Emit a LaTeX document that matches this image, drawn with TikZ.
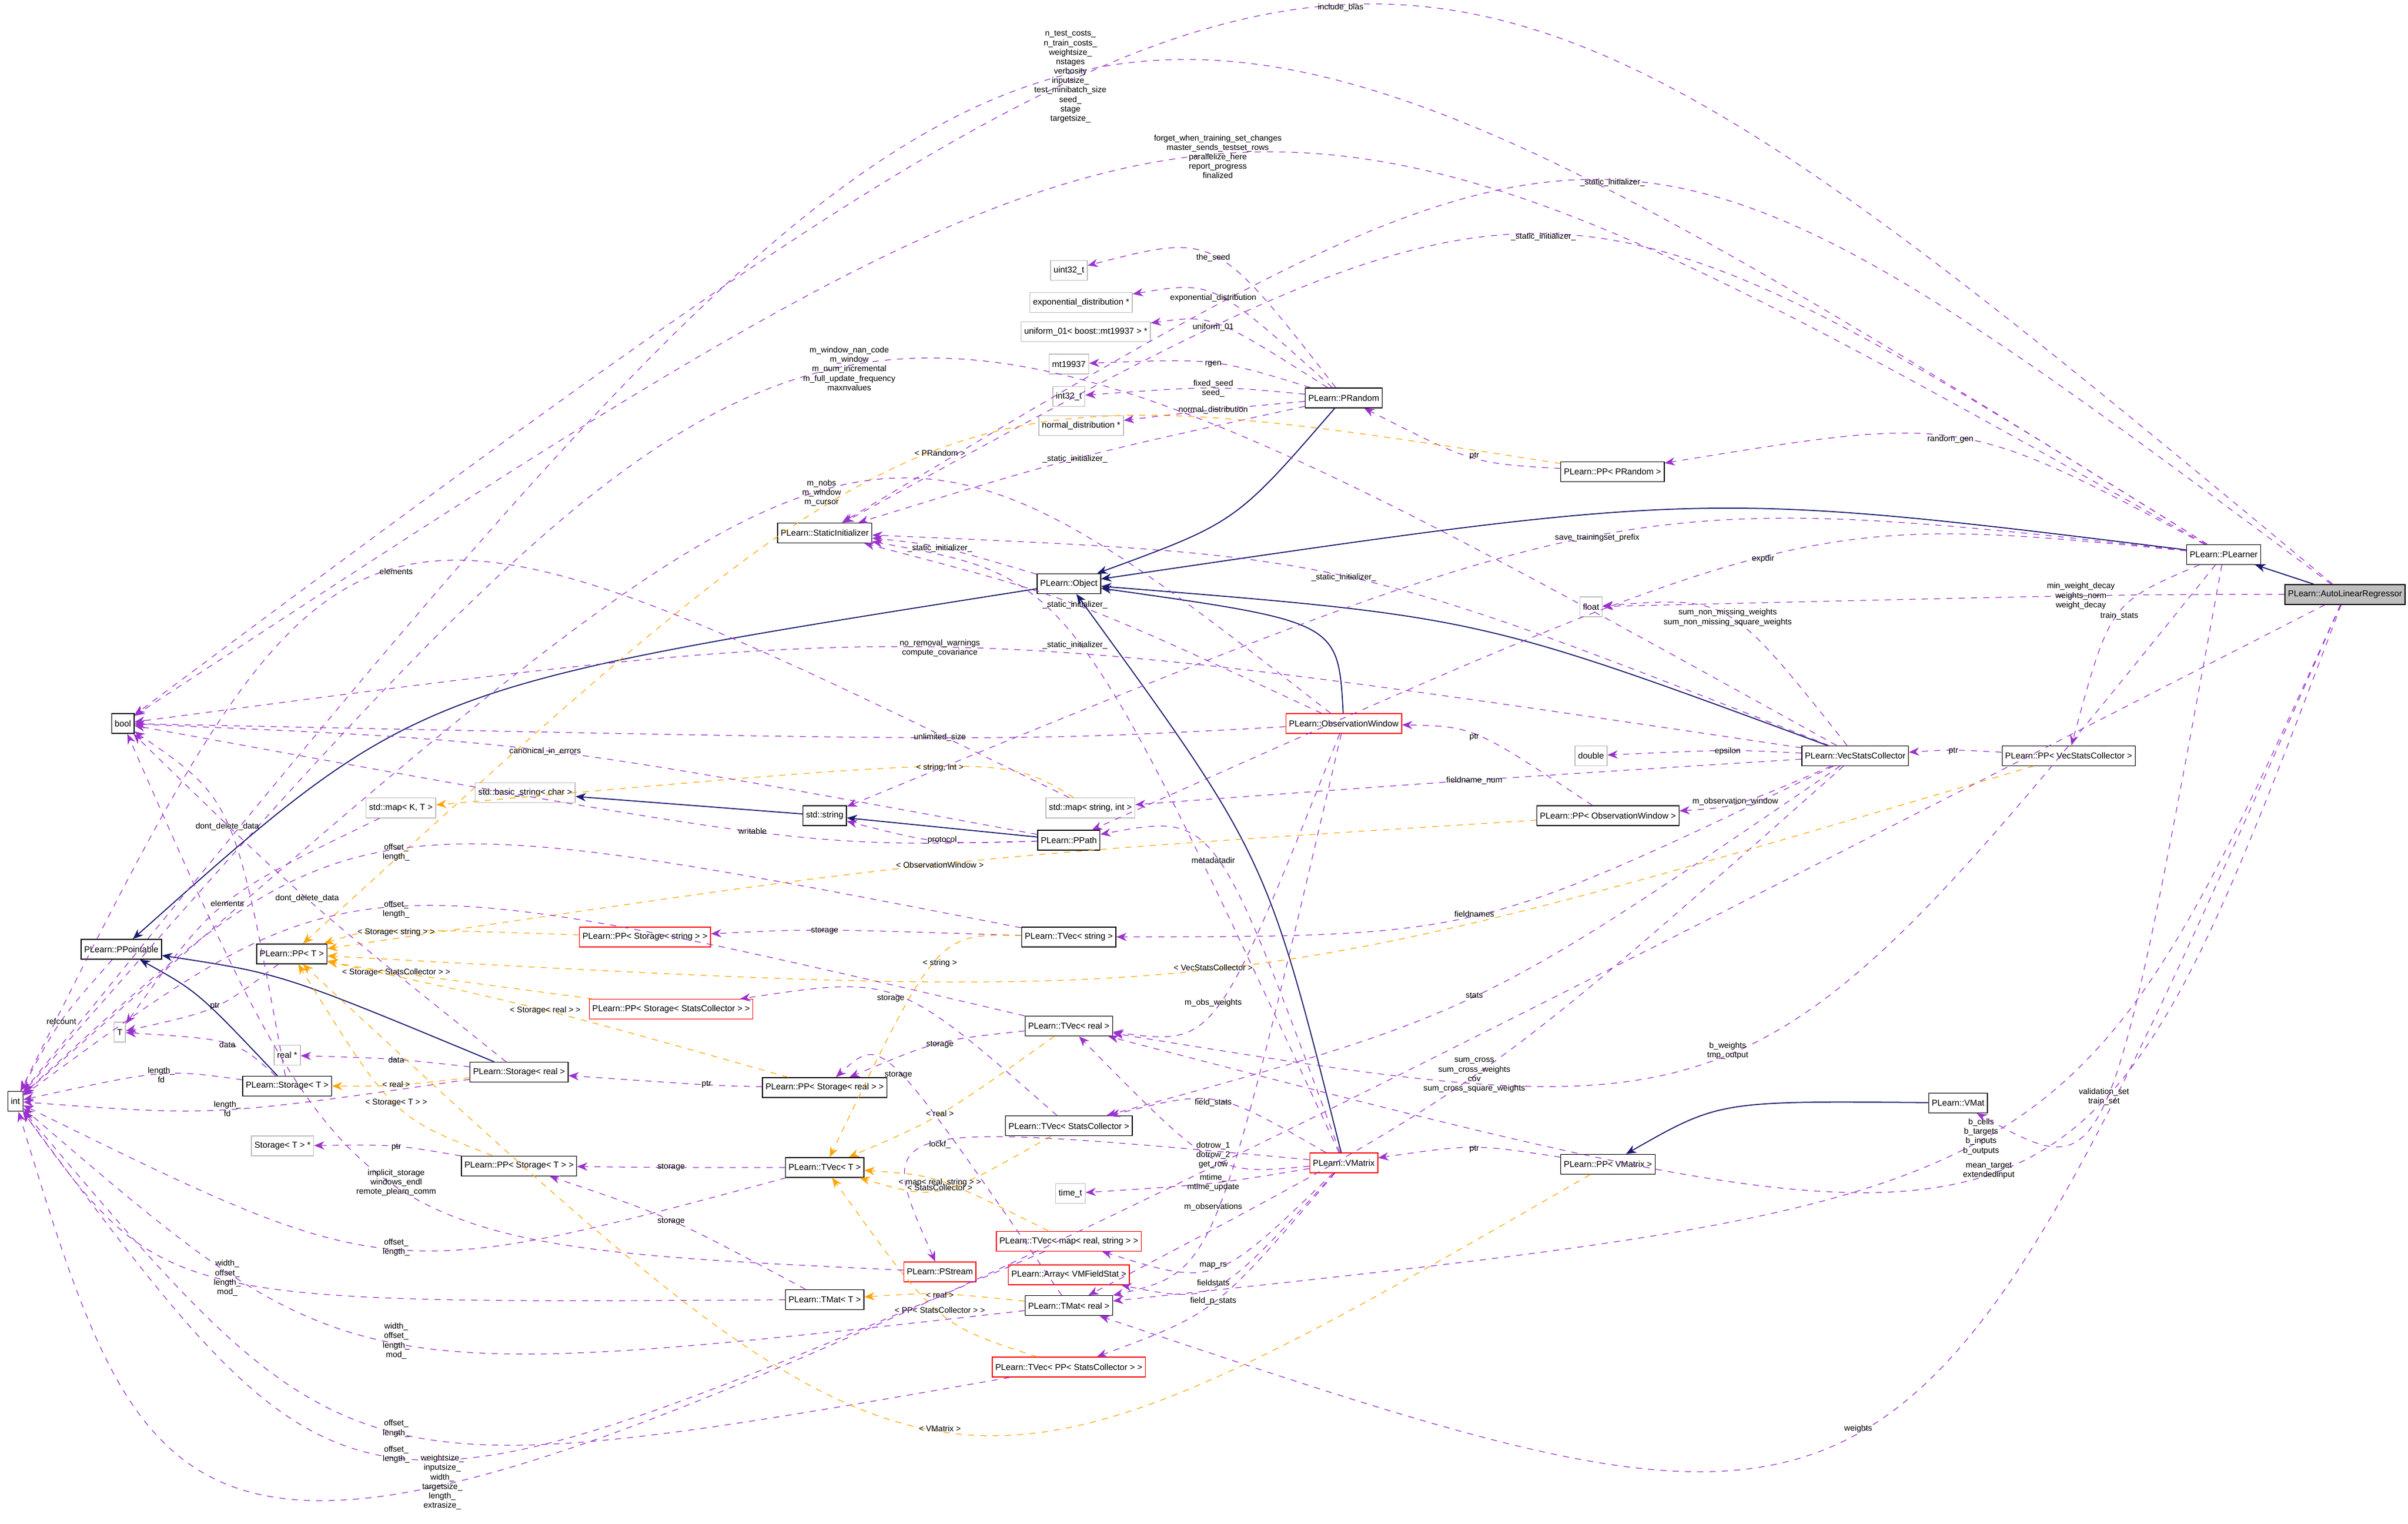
\documentclass[tikz,border=0pt]{standalone}
\usepackage{fontspec}
\setmainfont{Liberation Sans}
\usetikzlibrary{arrows.meta, calc}

\definecolor{depcol}{RGB}{154,50,205}
\definecolor{tplcol}{RGB}{255,165,0}
\definecolor{inhcol}{RGB}{25,25,112}
\definecolor{grayedge}{RGB}{191,191,191}

\tikzset{
    cls/.style={rectangle, draw=black, line width=0.4pt, inner sep=1.5pt, minimum height=0.34cm, font=\fontsize{4.2}{5}\selectfont},
    redcls/.style={cls, draw=red},
    extcls/.style={cls, draw=grayedge},
    lbl/.style={font=\fontsize{4}{4.6}\selectfont, align=center, inner sep=0.5pt},
    dep/.style={draw=depcol, dashed, line width=0.35pt, -{Stealth[length=5pt, width=4pt]}},
    tpl/.style={draw=tplcol, dashed, line width=0.35pt, -{Stealth[length=5pt, width=4pt]}},
    inh/.style={draw=inhcol, line width=0.5pt, -{Stealth[length=5pt, width=4pt]}}
}

% curve from #2 to #3 passing through the label point #4
\newcommand\dlink[5][dep]{%
    \draw[#1] (#2) .. controls ($1.3333*(#4)-0.1667*(#2)-0.1667*(#3)$) .. (#3);
    \node[lbl] at (#4) {#5};}

\begin{document}
\begin{tikzpicture}[x=0.026327cm, y=-0.026327cm]
    \useasboundingbox (0,0) rectangle (1568,992);

    % Classes
    \node[cls, fill=grayedge] (alr) at (1527,387) {PLearn::AutoLinearRegressor};
    \node[cls] (plearner) at (1448,361) {PLearn::PLearner};
    \node[cls] (prandom) at (875,259) {PLearn::PRandom};
    \node[cls] (pprandom) at (1050,307) {PLearn::PP< PRandom >};
    \node[extcls] (uint) at (696,176) {uint32\_t};
    \node[extcls] (expd) at (704,197) {exponential\_distribution *};
    \node[extcls] (unif) at (707,216) {uniform\_01< boost::mt19937 > *};
    \node[extcls] (mt) at (696,237) {mt19937};
    \node[extcls] (int32) at (696,258) {int32\_t};
    \node[extcls] (normd) at (704,277) {normal\_distribution *};
    \node[cls] (statinit) at (537,347) {PLearn::StaticInitializer};
    \node[cls] (object) at (696,380) {PLearn::Object};
    \node[extcls] (float) at (1036,395) {float};
    \node[cls] (bool) at (80,471) {bool};
    \node[redcls] (obswin) at (875,471) {PLearn::ObservationWindow};
    \node[extcls] (double) at (1036,492) {double};
    \node[cls] (vsc) at (1208,492) {PLearn::VecStatsCollector};
    \node[cls] (ppvsc) at (1347,492) {PLearn::PP< VecStatsCollector >};
    \node[extcls] (basicstr) at (342,516) {std::basic\_string< char >};
    \node[extcls] (mapkt) at (261,526) {std::map< K, T >};
    \node[extcls] (mapsi) at (710,526) {std::map< string, int >};
    \node[cls] (stdstr) at (537,531) {std::string};
    \node[cls] (ppobswin) at (1047,531) {PLearn::PP< ObservationWindow >};
    \node[cls] (ppath) at (696,547) {PLearn::PPath};
    \node[cls] (ppointable) at (79,618) {PLearn::PPointable};
    \node[cls] (ppt) at (190,621) {PLearn::PP< T >};
    \node[redcls] (ppstorstr) at (420,610) {PLearn::PP< Storage< string > >};
    \node[cls] (tvecstr) at (696,610) {PLearn::TVec< string >};
    \node[redcls] (ppstorsc) at (437,657) {PLearn::PP< Storage< StatsCollector > >};
    \node[cls] (tvecreal) at (696,668) {PLearn::TVec< real >};
    \node[extcls] (T) at (78,672) {T};
    \node[extcls] (realptr) at (187,687) {real *};
    \node[cls] (storreal) at (338,698) {PLearn::Storage< real >};
    \node[cls] (ppstorreal) at (537,708) {PLearn::PP< Storage< real > >};
    \node[cls] (stort) at (187,707) {PLearn::Storage< T >};
    \node[cls] (int) at (10,717) {int};
    \node[cls] (vmat) at (1275,718) {PLearn::VMat};
    \node[cls] (tvecsc) at (696,733) {PLearn::TVec< StatsCollector >};
    \node[extcls] (stortptr) at (184,746) {Storage< T > *};
    \node[cls] (ppstort) at (338,759) {PLearn::PP< Storage< T > >};
    \node[cls] (tvect) at (537,760) {PLearn::TVec< T >};
    \node[redcls] (vmatrix) at (875,757) {PLearn::VMatrix};
    \node[cls] (ppvmatrix) at (1047,758) {PLearn::PP< VMatrix >};
    \node[extcls] (timet) at (697,777) {time\_t};
    \node[redcls] (tvecmap) at (696,808) {PLearn::TVec< map< real, string > >};
    \node[redcls] (pstream) at (612,828) {PLearn::PStream};
    \node[redcls] (arrvmf) at (696,830) {PLearn::Array< VMFieldStat >};
    \node[cls] (tmatt) at (537,846) {PLearn::TMat< T >};
    \node[cls] (tmatreal) at (696,850) {PLearn::TMat< real >};
    \node[redcls] (tvecppsc) at (696,890) {PLearn::TVec< PP< StatsCollector > >};

    % Inheritance
    \draw[inh] (alr) -- (plearner);
    \dlink[inh]{plearner}{object}{1100,332}{}
    \dlink[inh]{prandom}{object}{800,335}{}
    \dlink[inh]{vsc}{object}{960,410}{}
    \dlink[inh]{obswin}{object}{850,410}{}
    \dlink[inh]{vmatrix}{object}{815,560}{}
    \dlink[inh]{object}{ppointable}{300,460}{}
    \dlink[inh]{storreal}{ppointable}{190,640}{}
    \dlink[inh]{stort}{ppointable}{130,650}{}
    \draw[inh] (stdstr) -- (basicstr);
    \draw[inh] (ppath) -- (stdstr);
    \dlink[inh]{vmat}{ppvmatrix}{1130,722}{}

    % AutoLinearRegressor members
    \dlink{alr}{bool}{873,5}{include\_bias}
    \dlink{alr}{int}{288,965}{weightsize\_\\inputsize\_\\width\_\\targetsize\_\\length\_\\extrasize\_}
    \dlink{alr}{statinit}{1050,119}{\_static\_initializer\_}
    \dlink{alr}{float}{1355,388}{min\_weight\_decay\\weights\_norm\\weight\_decay}
    \dlink{alr}{tmatreal}{1210,930}{weights}
    \dlink{alr}{tvecreal}{1295,762}{mean\_target\\extendedinput}
    \dlink{alr}{tmatreal}{1290,740}{b\_cells\\b\_targets\\b\_inputs\\b\_outputs}

    % PLearner members
    \dlink{plearner}{int}{697,50}{n\_test\_costs\_\\n\_train\_costs\_\\weightsize\_\\nstages\\verbosity\\inputsize\_\\test\_minibatch\_size\\seed\_\\stage\\targetsize\_}
    \dlink{plearner}{bool}{793,102}{forget\_when\_training\_set\_changes\\master\_sends\_testset\_rows\\parallelize\_here\\report\_progress\\finalized}
    \dlink{plearner}{statinit}{1005,154}{\_static\_initializer\_}
    \dlink{plearner}{pprandom}{1270,286}{random\_gen}
    \dlink{plearner}{stdstr}{1040,350}{save\_trainingset\_prefix}
    \dlink{plearner}{ppath}{1148,364}{expdir}
    \dlink{plearner}{ppvsc}{1380,401}{train\_stats}
    \dlink{plearner}{vmat}{1370,714}{validation\_set\\train\_set}
    \dlink{plearner}{tvecreal}{1125,684}{b\_weights\\tmp\_output}

    % PRandom members
    \dlink{prandom}{uint}{790,168}{the\_seed}
    \dlink{prandom}{expd}{790,194}{exponential\_distribution}
    \dlink{prandom}{unif}{790,213}{uniform\_01}
    \dlink{prandom}{mt}{790,237}{rgen}
    \dlink{prandom}{int32}{790,253}{fixed\_seed\\seed\_}
    \dlink{prandom}{normd}{790,267}{normal\_distribution}
    \dlink{prandom}{statinit}{700,299}{\_static\_initializer\_}
    \dlink{pprandom}{prandom}{960,297}{ptr}
    \dlink[tpl]{pprandom}{ppt}{612,295}{< PRandom >}

    % Object
    \dlink{object}{statinit}{612,357}{\_static\_initializer\_}

    % VecStatsCollector members
    \dlink{vsc}{bool}{612,422}{no\_removal\_warnings\\compute\_covariance}
    \dlink{vsc}{statinit}{875,376}{\_static\_initializer\_}
    \dlink{vsc}{float}{1125,402}{sum\_non\_missing\_weights\\sum\_non\_missing\_square\_weights}
    \dlink{vsc}{double}{1125,489}{epsilon}
    \dlink{vsc}{mapsi}{960,508}{fieldname\_num}
    \dlink{vsc}{ppobswin}{1130,522}{m\_observation\_window}
    \dlink{vsc}{tvecstr}{960,595}{fieldnames}
    \dlink{vsc}{tvecsc}{960,648}{stats}
    \dlink{vsc}{tmatreal}{960,700}{sum\_cross\\sum\_cross\_weights\\cov\\sum\_cross\_square\_weights}
    \dlink{vsc}{int}{553,240}{m\_window\_nan\_code\\m\_window\\m\_num\_incremental\\m\_full\_update\_frequency\\maxnvalues}
    \dlink{ppvsc}{vsc}{1272,489}{ptr}
    \dlink[tpl]{ppvsc}{ppt}{790,630}{< VecStatsCollector >}

    % ObservationWindow members
    \dlink{obswin}{statinit}{700,394}{\_static\_initializer\_}
    \dlink{obswin}{bool}{612,480}{unlimited\_size}
    \dlink{obswin}{int}{535,321}{m\_nobs\\m\_window\\m\_cursor}
    \dlink{obswin}{tmatreal}{790,786}{m\_observations}
    \dlink{obswin}{tvecreal}{790,653}{m\_obs\_weights}
    \dlink{ppobswin}{obswin}{960,480}{ptr}
    \dlink[tpl]{ppobswin}{ppt}{612,563}{< ObservationWindow >}

    % Strings, maps, paths
    \dlink[tpl]{mapsi}{mapkt}{612,500}{< string, int >}
    \dlink{mapkt}{T}{148,588}{elements}
    \dlink{mapsi}{int}{258,372}{elements}
    \dlink{ppath}{stdstr}{612,547}{\_protocol}
    \dlink{ppath}{bool}{355,489}{canonical\_in\_errors}
    \dlink{ppath}{bool}{490,541}{writable}

    % Vectors and storages
    \dlink{tvecstr}{ppstorstr}{537,606}{storage}
    \dlink[tpl]{tvecstr}{tvect}{612,627}{< string >}
    \dlink{tvecstr}{int}{258,555}{offset\_\\length\_}
    \dlink[tpl]{ppstorstr}{ppt}{258,607}{< Storage< string > >}
    \dlink{tvecreal}{ppstorreal}{612,680}{storage}
    \dlink[tpl]{tvecreal}{tvect}{612,725}{< real >}
    \dlink{tvecreal}{int}{258,592}{offset\_\\length\_}
    \dlink[tpl]{ppstorsc}{ppt}{258,633}{< Storage< StatsCollector > >}
    \dlink{tvecsc}{ppstorsc}{580,650}{storage}
    \dlink[tpl]{tvecsc}{tvect}{612,773}{< StatsCollector >}
    \dlink{ppstorreal}{storreal}{460,706}{ptr}
    \dlink[tpl]{ppstorreal}{ppt}{355,658}{< Storage< real > >}
    \dlink{storreal}{realptr}{258,690}{data}
    \dlink[tpl]{storreal}{stort}{258,706}{< real >}
    \dlink{storreal}{bool}{200,585}{dont\_delete\_data}
    \dlink{storreal}{int}{148,722}{length\_\\fd}
    \dlink{stort}{T}{148,680}{data}
    \dlink{stort}{bool}{148,538}{dont\_delete\_data}
    \dlink{stort}{int}{105,700}{length\_\\fd}
    \dlink{ppt}{T}{140,655}{ptr}
    \dlink{ppointable}{int}{40,665}{refcount}
    \dlink{ppstort}{stortptr}{258,747}{ptr}
    \dlink[tpl]{ppstort}{ppt}{258,718}{< Storage< T > >}
    \dlink{tvect}{ppstort}{437,760}{storage}
    \dlink{tvect}{int}{258,812}{offset\_\\length\_}
    \dlink{tmatt}{ppstort}{437,795}{storage}
    \dlink{tmatt}{int}{148,832}{width\_\\offset\_\\length\_\\mod\_}
    \dlink[tpl]{tmatreal}{tmatt}{612,843}{< real >}
    \dlink{tmatreal}{ppstorreal}{585,700}{storage}
    \dlink{tmatreal}{int}{258,873}{width\_\\offset\_\\length\_\\mod\_}
    \dlink[tpl]{tvecppsc}{tvect}{612,853}{< PP< StatsCollector > >}
    \dlink{tvecppsc}{int}{258,930}{offset\_\\length\_}
    \dlink[tpl]{tvecmap}{tvect}{612,770}{< map< real, string > >}
    \dlink{tvecmap}{int}{258,947}{offset\_\\length\_}
    \dlink{pstream}{bool}{258,770}{implicit\_storage\\windows\_endl\\remote\_plearn\_comm}

    % VMatrix members
    \dlink{vmatrix}{tvecsc}{790,718}{field\_stats}
    \dlink{vmatrix}{pstream}{612,745}{lockf\_}
    \dlink{vmatrix}{timet}{790,770}{mtime\_\\mtime\_update}
    \dlink{vmatrix}{tvecmap}{790,824}{map\_rs}
    \dlink{vmatrix}{arrvmf}{790,835}{fieldstats}
    \dlink{vmatrix}{tvecppsc}{790,847}{field\_p\_stats}
    \dlink{vmatrix}{tvecreal}{790,752}{dotrow\_1\\dotrow\_2\\get\_row}
    \dlink{vmatrix}{ppath}{790,560}{metadatadir}
    \dlink{vmatrix}{statinit}{700,420}{\_static\_initializer\_}
    \dlink{ppvmatrix}{vmatrix}{960,748}{ptr}
    \dlink[tpl]{ppvmatrix}{ppt}{612,930}{< VMatrix >}
\end{tikzpicture}
\end{document}
